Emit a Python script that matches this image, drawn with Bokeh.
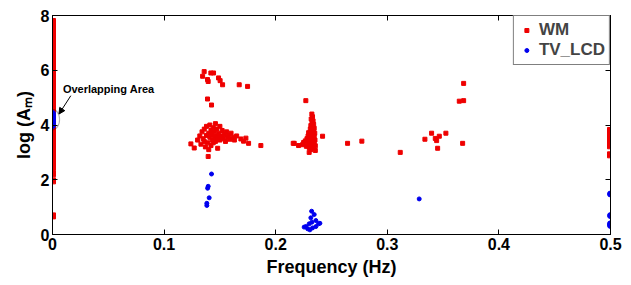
import math
from bokeh.plotting import figure
from bokeh.models import (Range1d, LinearAxis, Legend, LegendItem, Arrow, NormalHead,
                          Label, FixedTicker, PolyAnnotation)
from bokeh.embed import file_html
from bokeh.resources import INLINE

# ---------------- data ----------------
x_ticks = [0, 0.1, 0.2, 0.3, 0.4, 0.5]
x_tick_labels = ["0", "0.1", "0.2", "0.3", "0.4", "0.5"]
y_ticks = [0, 2, 4, 6, 8]
y_tick_labels = ["0", "2", "4", "6", "8"]

# WM at 0 Hz
wm_f0_y = [7.78, 7.71, 7.62, 7.55, 7.47, 7.40, 7.31, 7.24, 7.16, 7.08, 7.00, 6.93, 6.85, 6.77,
           6.70, 6.61, 6.54, 6.46, 6.38, 6.31, 6.24, 6.15, 6.08, 6.00, 5.92, 5.85, 5.77, 5.69,
           5.61, 5.54, 5.46, 5.38, 5.30, 5.23, 5.15, 5.07, 5.00, 4.92, 4.84, 4.76, 4.68, 4.61,
           4.53, 4.45, 4.37, 4.30, 4.22, 4.14, 4.06, 3.99, 3.91, 3.83, 3.75, 3.68, 3.60, 3.52,
           3.44, 3.37, 3.29, 3.21, 3.13, 3.06, 2.98, 2.90, 2.82, 2.74, 2.67, 2.59, 2.51, 2.45,
           2.22, 1.96, 0.68]
# WM near 0.14 Hz (upper group)
wm_a_up_x = [0.1359, 0.1345, 0.1389, 0.1395, 0.1419, 0.1443, 0.1488, 0.1502, 0.1524, 0.1673,
             0.1748, 0.1389, 0.1425]
wm_a_up_y = [5.95, 5.78, 5.66, 5.59, 5.90, 5.90, 5.72, 5.62, 5.47, 5.47, 5.41, 4.95, 4.73]
# WM near 0.14 Hz (main group)
wm_a_x = [0.124, 0.127, 0.130, 0.132, 0.133, 0.134, 0.135, 0.136, 0.136, 0.137, 0.138, 0.138,
          0.139, 0.1395, 0.140, 0.140, 0.141, 0.141, 0.142, 0.142, 0.143, 0.143, 0.144, 0.144,
          0.145, 0.145, 0.146, 0.146, 0.147, 0.147, 0.148, 0.148, 0.149, 0.150, 0.150, 0.151,
          0.152, 0.153, 0.154, 0.155, 0.156, 0.157, 0.158, 0.159, 0.160, 0.162, 0.163, 0.165,
          0.1688, 0.1712, 0.1733, 0.1757, 0.1867, 0.2166]
wm_a_y = [3.31, 3.16, 3.45, 3.60, 3.30, 3.75, 3.50, 3.40, 3.85, 3.20, 3.62, 3.95,
          3.35, 2.85, 3.70, 3.10, 3.55, 4.00, 3.80, 3.25, 3.45, 3.65, 3.90, 3.35,
          3.55, 3.75, 4.05, 3.40, 3.60, 3.85, 3.50, 3.15, 3.70, 3.95, 3.45, 3.60,
          3.80, 3.50, 3.65, 3.40, 3.75, 3.55, 3.62, 3.48, 3.70, 3.55, 3.45, 3.60,
          3.49, 3.41, 3.52, 3.33, 3.25, 3.33]
# WM near 0.23 Hz
wm_b_x = [0.2324, 0.2330, 0.2318, 0.2335, 0.2325, 0.2340, 0.2315, 0.2330, 0.2345, 0.2310,
          0.2322, 0.2338, 0.2295, 0.2350, 0.2312, 0.2328, 0.2290, 0.2345, 0.2305, 0.2320,
          0.2280, 0.2336, 0.2352, 0.2298, 0.2265, 0.2315, 0.2330, 0.2250, 0.2345, 0.2290,
          0.2310, 0.2240, 0.2327, 0.2355, 0.2275, 0.2300, 0.2340, 0.2315, 0.2355, 0.2300,
          0.2205, 0.2157, 0.2420, 0.2270, 0.2644, 0.2772, 0.3116]
wm_b_y = [4.40, 4.30, 4.22, 4.15, 4.08, 4.02, 3.98, 3.92, 3.88, 3.85,
          3.80, 3.75, 3.72, 3.70, 3.66, 3.62, 3.60, 3.58, 3.55, 3.52,
          3.50, 3.48, 3.45, 3.44, 3.42, 3.40, 3.38, 3.36, 3.35, 3.32,
          3.30, 3.28, 3.26, 3.24, 3.22, 3.18, 3.15, 3.10, 3.07, 3.00,
          3.25, 3.33, 3.59, 4.89, 3.33, 3.41, 3.00]
# WM near 0.34 Hz
wm_c_x = [0.3684, 0.3645, 0.3684, 0.3397, 0.3337, 0.3430, 0.3466, 0.3442, 0.3525, 0.3675, 0.3451]
wm_c_y = [5.52, 4.87, 4.89, 3.70, 3.48, 3.51, 3.59, 3.43, 3.70, 3.33, 3.15]
# WM at 0.5 Hz
wm_f5_y = [3.80, 3.72, 3.64, 3.56, 3.48, 3.40, 3.32, 3.24, 2.91]

# TV_LCD
tv_f0_y = [4.42, 4.35, 4.28, 4.20, 4.12, 4.05, 3.98]
tv_a_x = [0.1425, 0.1395, 0.1390, 0.1404, 0.1383, 0.1383]
tv_a_y = [2.21, 1.76, 1.69, 1.34, 1.14, 1.06]
tv_b_x = [0.2322, 0.2345, 0.2315, 0.2360, 0.2384, 0.2300, 0.2270, 0.2330, 0.2306, 0.2255,
          0.2286, 0.2360, 0.2324, 0.2396]
tv_b_y = [0.85, 0.73, 0.61, 0.51, 0.39, 0.39, 0.29, 0.24, 0.17, 0.27,
          0.21, 0.29, 0.45, 0.41]
tv_c_x = [0.3286]
tv_c_y = [1.30]
tv_f5_y = [1.48, 0.69, 0.39, 0.33]

# annotation
overlap_center = (0.0, 4.2)
overlap_text = "Overlapping Area"

wm_in_x = wm_a_up_x + wm_a_x + wm_b_x + wm_c_x
wm_in_y = wm_a_up_y + wm_a_y + wm_b_y + wm_c_y
wm_edge_x = [0.0] * len(wm_f0_y) + [0.5] * len(wm_f5_y)
wm_edge_y = wm_f0_y + wm_f5_y
tv_in_x = tv_a_x + tv_b_x + tv_c_x
tv_in_y = tv_a_y + tv_b_y + tv_c_y
tv_edge_x = [0.0] * len(tv_f0_y) + [0.5] * len(tv_f5_y)
tv_edge_y = tv_f0_y + tv_f5_y

FONT = "Liberation Sans"
RED = "#ee0000"
BLUE = "#0000ee"

p = figure(width=625, height=280, x_range=Range1d(0, 0.5), y_range=Range1d(0, 8),
           output_backend="svg", toolbar_location=None,
           min_border_left=52, min_border_right=15, min_border_top=15, min_border_bottom=46)
p.xgrid.visible = False
p.ygrid.visible = False
p.outline_line_color = "black"
p.background_fill_color = "white"
p.border_fill_color = "white"

r_wm = p.scatter(wm_in_x, wm_in_y, marker="square", size=4, fill_color=RED, line_color=RED)
p.scatter(wm_edge_x, wm_edge_y, marker="square", size=6, fill_color=RED, line_color=RED)
r_tv = p.scatter(tv_in_x, tv_in_y, marker="circle", size=4, fill_color=BLUE, line_color=BLUE)
p.scatter(tv_edge_x, tv_edge_y, marker="circle", size=6, fill_color=BLUE, line_color=BLUE)

for ax, ticks, labels in ((p.xaxis[0], x_ticks, x_tick_labels), (p.yaxis[0], y_ticks, y_tick_labels)):
    ax.ticker = FixedTicker(ticks=ticks)
    ax.major_label_overrides = dict(zip(ticks, labels))
    ax.major_tick_in = 5
    ax.major_tick_out = 0
    ax.minor_tick_in = 0
    ax.minor_tick_out = 0
    ax.axis_line_color = "black"
    ax.major_tick_line_color = "black"
    ax.major_label_text_font = FONT
    ax.major_label_text_font_size = "16px"
    ax.major_label_text_font_style = "bold"
    ax.major_label_text_color = "black"
    ax.major_label_standoff = 3
    ax.axis_label_text_font = FONT
    ax.axis_label_text_font_size = "18px"
    ax.axis_label_text_font_style = "bold"
    ax.axis_label_text_color = "black"
    ax.axis_label_standoff = 4

p.xaxis.axis_label = "Frequency (Hz)"
p.yaxis.axis_label = "log (A\u2098)"

for side, ticks in (("above", x_ticks), ("right", y_ticks)):
    ax = LinearAxis(ticker=FixedTicker(ticks=ticks), major_tick_in=5, major_tick_out=0,
                    minor_tick_in=0, minor_tick_out=0,
                    major_label_overrides={t: "" for t in ticks},
                    major_label_standoff=0, axis_line_color="black")
    p.add_layout(ax, side)

# ellipse around overlap
cx, cy = overlap_center
rx, ry = 0.0063, 0.37
n = 48
ell_x = [cx + rx * math.cos(2 * math.pi * k / n) for k in range(n)]
ell_y = [cy + ry * math.sin(2 * math.pi * k / n) for k in range(n)]
p.add_layout(PolyAnnotation(xs=ell_x, ys=ell_y, fill_alpha=0, line_color="black", line_width=1.2))

p.add_layout(Arrow(end=NormalHead(size=6, fill_color="black", line_color="black"),
                   x_start=0.0164, y_start=5.07, x_end=0.0058, y_end=4.4,
                   line_color="black", line_width=1))
p.add_layout(Label(x=0.0093, y=5.33, text=overlap_text, text_font=FONT, text_font_size="11px",
                   text_font_style="bold", text_baseline="middle", text_color="black"))

legend = Legend(items=[LegendItem(label="WM", renderers=[r_wm]),
                       LegendItem(label="TV_LCD", renderers=[r_tv])],
                location="top_right", margin=0, padding=4, spacing=0,
                glyph_width=17, glyph_height=10, label_standoff=4,
                label_text_font=FONT, label_text_font_size="17px", label_text_font_style="bold",
                label_height=20,
                border_line_color="black", border_line_width=1, background_fill_alpha=1)
p.add_layout(legend)

open("out.html", "w").write(file_html(p, INLINE))
